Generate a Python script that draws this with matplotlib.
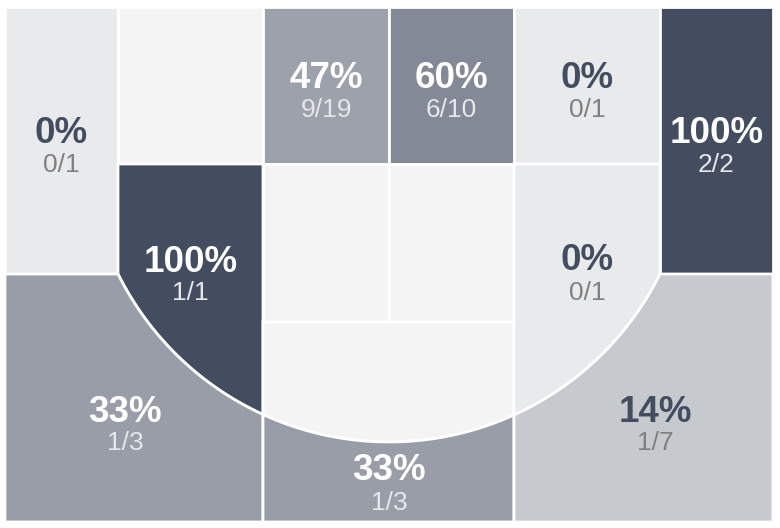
import numpy as np
import matplotlib
matplotlib.use("Agg")
import matplotlib.pyplot as plt
from matplotlib.patches import Polygon

# ---- data ----
zones = ["left_corner", "top_left_mid", "paint_top_left", "paint_top_right",
         "top_right_mid", "right_corner", "left_mid", "paint_low_left",
         "paint_low_right", "paint_bottom", "right_mid", "left_wing",
         "top_key", "right_wing"]
makes    = [0, None, 9, 6, 0, 2, 1, None, None, None, 0, 1, 1, 1]
attempts = [1, None, 19, 10, 1, 2, 1, None, None, None, 1, 3, 3, 7]
fill_colors = ["#e9eaec", "#f4f4f4", "#9ca1ab", "#838996", "#e9eaec", "#434d5f",
               "#434d5f", "#f4f4f4", "#f4f4f4", "#f4f4f4", "#e9eaec", "#989da7",
               "#989da7", "#c6c9ce"]

# ---- geometry (layout, pixel space) ----
L, R, T, B = 5, 773, 7, 522
x1, x2, x3, x4, x5 = 118, 263, 389, 514, 660
y1, y2, y3 = 164, 274, 322
cx, cy = 389.0, 139.4
rad = np.hypot(cx - x1, y2 - cy)

def arc_y(x):
    return cy + np.sqrt(rad**2 - (x - cx)**2)

def arc(xa, xb, n=80):
    xs = np.linspace(xa, xb, n)
    return list(zip(xs, arc_y(xs)))

polys = {
    "left_corner": [(L, T), (x1, T), (x1, y2), (L, y2)],
    "top_left_mid": [(x1, T), (x2, T), (x2, y1), (x1, y1)],
    "paint_top_left": [(x2, T), (x3, T), (x3, y1), (x2, y1)],
    "paint_top_right": [(x3, T), (x4, T), (x4, y1), (x3, y1)],
    "top_right_mid": [(x4, T), (x5, T), (x5, y1), (x4, y1)],
    "right_corner": [(x5, T), (R, T), (R, y2), (x5, y2)],
    "left_mid": [(x1, y1), (x2, y1)] + arc(x2, x1),
    "paint_low_left": [(x2, y1), (x3, y1), (x3, y3), (x2, y3)],
    "paint_low_right": [(x3, y1), (x4, y1), (x4, y3), (x3, y3)],
    "paint_bottom": [(x2, y3), (x4, y3)] + arc(x4, x2),
    "right_mid": [(x4, y1), (x5, y1)] + arc(x5, x4),
    "left_wing": [(L, y2)] + arc(x1, x2) + [(x2, B), (L, B)],
    "top_key": arc(x2, x4) + [(x4, B), (x2, B)],
    "right_wing": arc(x4, x5) + [(R, y2), (R, B), (x4, B)],
}

anchors = {
    "left_corner": (61.5, 140.5),
    "paint_top_left": (326, 85.5),
    "paint_top_right": (451.5, 85.5),
    "top_right_mid": (587, 85.5),
    "right_corner": (716.5, 140.5),
    "left_mid": (190.5, 269),
    "right_mid": (587, 268),
    "left_wing": (125, 419),
    "top_key": (389, 478),
    "right_wing": (655, 419),
}

dark_fills = {"#434d5f", "#838996", "#9ca1ab", "#989da7"}

fig = plt.figure(figsize=(7.8, 5.28), dpi=100)
ax = fig.add_axes([0, 0, 1, 1])
ax.set_xlim(0, 780)
ax.set_ylim(528, 0)
ax.axis("off")

for z, col in zip(zones, fill_colors):
    ax.add_patch(Polygon(polys[z], closed=True, facecolor=col,
                         edgecolor="white", linewidth=2.0, joinstyle="miter"))

for z, m, a, col in zip(zones, makes, attempts, fill_colors):
    if a is None:
        continue
    pct = round(100 * m / a)
    axx, ayy = anchors[z]
    if col in dark_fills:
        pc, fc = "white", "#e6e7ea"
    else:
        pc, fc = "#434d5f", "#808080"
    ax.text(axx, ayy - 11, f"{pct}%", ha="center", va="center_baseline",
            fontsize=26.5, fontweight="bold", color=pc,
            family=["Liberation Sans", "DejaVu Sans"])
    ax.text(axx, ayy + 22, f"{m}/{a}", ha="center", va="center_baseline",
            fontsize=19, color=fc, family=["Liberation Sans", "DejaVu Sans"])

fig.savefig("out.png", dpi=100)
